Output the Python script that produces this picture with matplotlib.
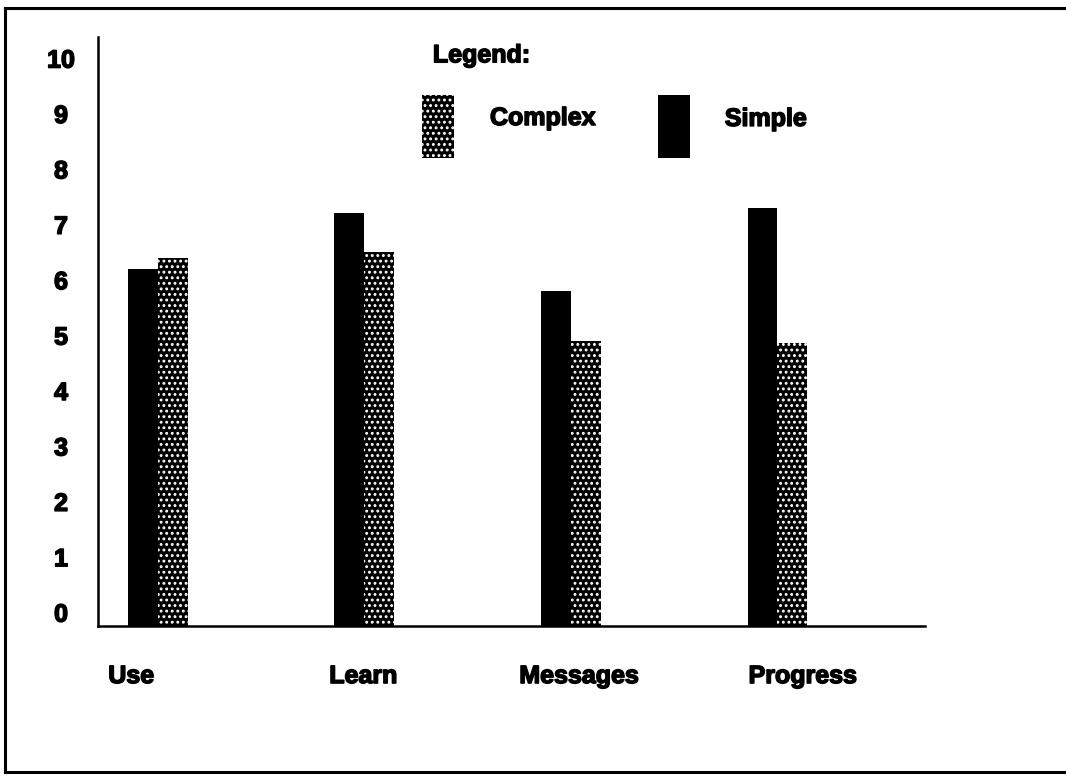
import numpy as np
import matplotlib
matplotlib.use("Agg")
import matplotlib.pyplot as plt
import matplotlib.patheffects as pe
from matplotlib.patches import Rectangle
from matplotlib.lines import Line2D

# Ratings per interface area
categories = ['Use', 'Learn', 'Messages', 'Progress']
simple_scores = [6.2, 7.2, 5.8, 7.3]
complex_scores = [6.4, 6.5, 4.9, 4.85]
y_ticks = list(range(0, 11))
series_names = ['Complex', 'Simple']

plt.rcParams['font.family'] = ['Liberation Sans', 'DejaVu Sans']
plt.rcParams['font.weight'] = 'bold'
plt.rcParams['hatch.linewidth'] = 1.3

# heavier lettering
heavy = [pe.withStroke(linewidth=1.1, foreground='black')]

fig = plt.figure(figsize=(10.66, 7.76), dpi=100)
ax = fig.add_axes([0.0919, 0.1933, 0.7758, 0.759])

x = np.arange(len(categories))
w = 0.145
floor = -0.25  # the x axis sits a bit below the "0" label
ax.set_xlim(-0.29, 3.714)
ax.set_ylim(floor, 10.38)

# solid bars = simple, dotted bars = complex
ax.bar(x - w / 2, np.array(simple_scores) - floor, w, bottom=floor,
       color='black', linewidth=0)
ax.bar(x + w / 2, np.array(complex_scores) - floor, w, bottom=floor,
       color='black', edgecolor='white', linewidth=0, hatch='...')

for side in ['top', 'right']:
    ax.spines[side].set_visible(False)
for side in ['left', 'bottom']:
    ax.spines[side].set_linewidth(1.8)

ax.set_xticks([])
ax.set_yticks(y_ticks)
ax.set_yticklabels([str(t) for t in y_ticks], fontsize=18, ha='center')
ax.tick_params(axis='y', length=0, pad=26.6)
for t in ax.get_yticklabels():
    t.set_path_effects(heavy)

# category names sit under each group, left aligned
label_shift = [-0.24, -0.17, -0.25, -0.14]
for xi, name, sh in zip(x, categories, label_shift):
    ax.text(xi + sh, -0.085, name, transform=ax.get_xaxis_transform(),
            ha='left', va='center', fontsize=18, path_effects=heavy)

# legend block drawn by hand
ax.text(0.405, 0.969, 'Legend:', transform=ax.transAxes,
        ha='left', va='center', fontsize=18, path_effects=heavy)
ax.add_patch(Rectangle((0.392, 0.795), 0.0387, 0.107, transform=ax.transAxes,
                       facecolor='black', edgecolor='white', linewidth=0,
                       hatch='...', clip_on=False))
ax.text(0.474, 0.8625, series_names[0], transform=ax.transAxes,
        ha='left', va='center', fontsize=18, path_effects=heavy)
ax.add_patch(Rectangle((0.677, 0.795), 0.0387, 0.107, transform=ax.transAxes,
                       facecolor='black', linewidth=0, clip_on=False))
ax.text(0.758, 0.861, series_names[1], transform=ax.transAxes,
        ha='left', va='center', fontsize=18, path_effects=heavy)

# open frame round the figure (no right edge)
fx0 = 5 / 1066
fy_top = 1 - 8 / 776
fy_bot = 1 - 772 / 776
for xs, ys in [([fx0, 1], [fy_top, fy_top]),
               ([fx0, fx0], [fy_top, fy_bot]),
               ([fx0, 1], [fy_bot, fy_bot])]:
    fig.add_artist(Line2D(xs, ys, transform=fig.transFigure,
                          color='black', linewidth=2.2))

fig.savefig('out.png', dpi=100)
